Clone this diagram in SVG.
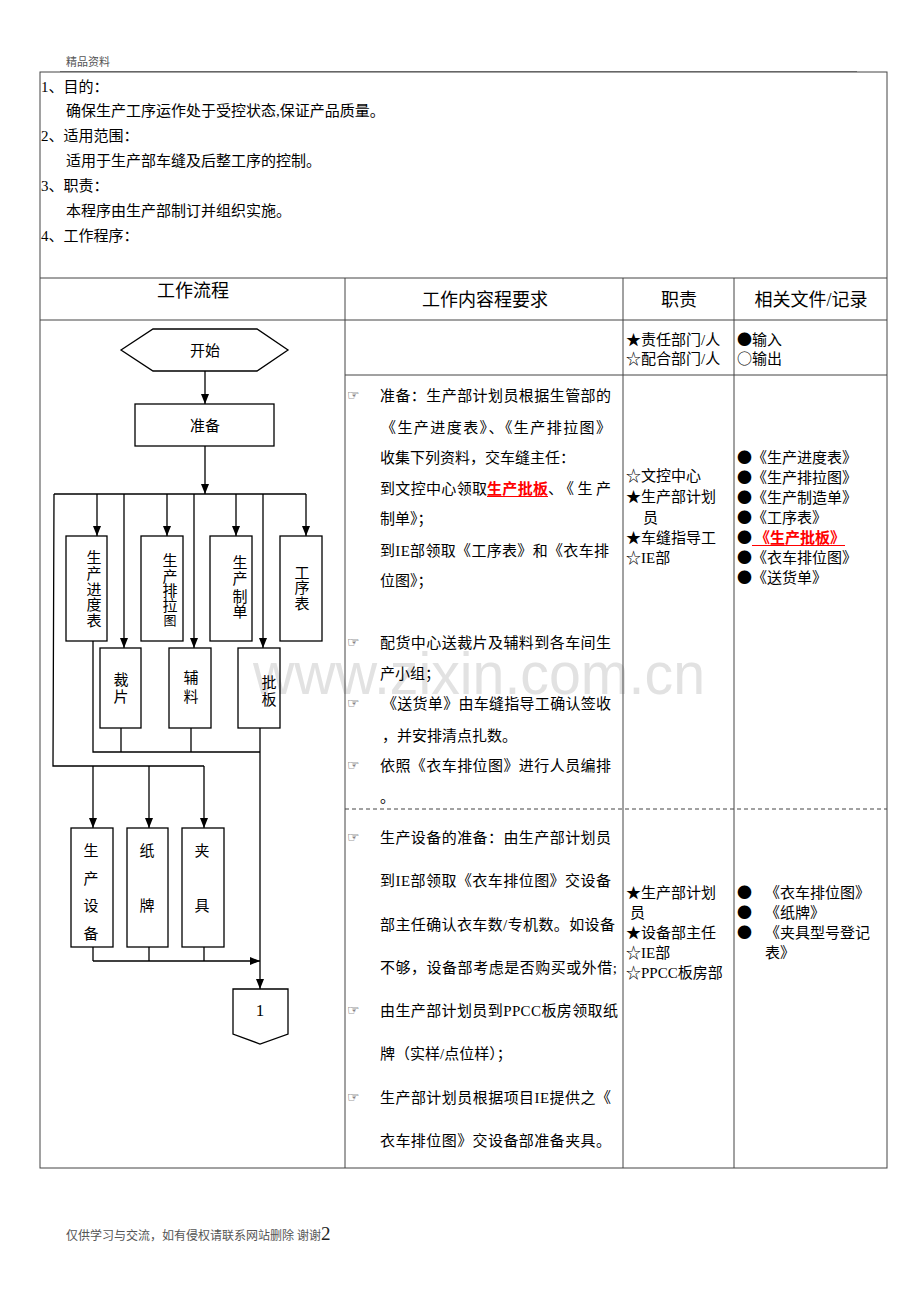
<svg xmlns="http://www.w3.org/2000/svg" width="920" height="1302" viewBox="0 0 920 1302">
<defs>
<marker id="arr" markerUnits="userSpaceOnUse" markerWidth="10" markerHeight="8" refX="10" refY="4" orient="auto">
<path d="M0,0 L10,4 L0,8 z" fill="#000"/>
</marker>
<style>
text{font-family:"Liberation Serif","Noto Sans CJK SC",serif;fill:#000;}
.t{font-size:15px;}
.h{font-size:18px;text-anchor:middle;}
.c{font-size:15px;text-anchor:middle;}
.sym{font-family:"Noto Sans CJK SC",sans-serif;}
.bul{font-family:"DejaVu Sans","Noto Sans CJK SC",sans-serif;font-size:14px;fill:#222;}
.red{fill:#ff0000;font-weight:bold;}
.grid{stroke:#444;stroke-width:1;fill:none;}
.fl{stroke:#000;stroke-width:1.3;fill:none;}
.box{stroke:#000;stroke-width:1.3;fill:none;}
.gray{fill:#555;}
</style>
</defs>
<rect width="920" height="1302" fill="#fff"/>
<text x="253" y="694" font-size="60" textLength="452" lengthAdjust="spacingAndGlyphs" style="font-family:'Liberation Sans',sans-serif;fill:#e2e2e2">www.zixin.com.cn</text>

<g id="page-header">
<text x="66" y="66" class="gray" style="font-size:11px">精品资料</text>
<line x1="60" y1="71.5" x2="857" y2="71.5" stroke="#888" stroke-width="1"/>
</g>

<g id="table">
<rect x="40" y="72" width="847" height="1096" class="grid"/>
<line x1="40" y1="278" x2="887" y2="278" class="grid"/>
<line x1="40" y1="320" x2="887" y2="320" class="grid"/>
<line x1="345" y1="375" x2="887" y2="375" class="grid"/>
<line x1="345" y1="809" x2="887" y2="809" class="grid" stroke-dasharray="4,3"/>
<line x1="345" y1="278" x2="345" y2="1168" class="grid"/>
<line x1="623" y1="278" x2="623" y2="1168" class="grid"/>
<line x1="734" y1="278" x2="734" y2="1168" class="grid"/>
</g>

<g id="intro">
<text class="t" x="41" y="91.5">1、目的：</text>
<text class="t" x="66" y="115.5">确保生产工序运作处于受控状态,保证产品质量。</text>
<text class="t" x="41" y="140.5">2、适用范围：</text>
<text class="t" x="66" y="165.5">适用于生产部车缝及后整工序的控制。</text>
<text class="t" x="41" y="190.5">3、职责：</text>
<text class="t" x="66" y="215.5">本程序由生产部制订并组织实施。</text>
<text class="t" x="41" y="240.5">4、工作程序：</text>
</g>

<g id="headers">
<text class="h" x="193" y="297">工作流程</text>
<text class="h" x="485" y="306">工作内容程要求</text>
<text class="h" x="679" y="306">职责</text>
<text class="h" x="811" y="306">相关文件/记录</text>
</g>

<g id="legend">
<text class="t" x="626" y="344.5">★责任部门/人</text>
<text class="t" x="626" y="363.5">☆配合部门/人</text>
<text class="t" x="737" y="344.5"><tspan class="sym">●</tspan>输入</text>
<text class="t" x="737" y="363.5"><tspan class="sym">○</tspan>输出</text>
</g>

<g id="connectors">
<line x1="205" y1="371" x2="205" y2="404" class="fl" marker-end="url(#arr)"/>
<line x1="205" y1="446" x2="205" y2="494" class="fl" marker-end="url(#arr)"/>
<line x1="54" y1="494" x2="306" y2="494" class="fl"/>
<line x1="97" y1="494" x2="97" y2="536" class="fl" marker-end="url(#arr)"/>
<line x1="124" y1="494" x2="124" y2="648" class="fl" marker-end="url(#arr)"/>
<line x1="167" y1="494" x2="167" y2="536" class="fl" marker-end="url(#arr)"/>
<line x1="194" y1="494" x2="194" y2="648" class="fl" marker-end="url(#arr)"/>
<line x1="236" y1="494" x2="236" y2="536" class="fl" marker-end="url(#arr)"/>
<line x1="263" y1="494" x2="263" y2="648" class="fl" marker-end="url(#arr)"/>
<line x1="306" y1="494" x2="306" y2="536" class="fl" marker-end="url(#arr)"/>
<polyline points="93,641 93,752 260,752" class="fl"/>
<line x1="121" y1="728" x2="121" y2="752" class="fl"/>
<line x1="191" y1="728" x2="191" y2="752" class="fl"/>
<line x1="260" y1="728" x2="260" y2="989" class="fl" marker-end="url(#arr)"/>
<polyline points="54,494 53,766 204,766" class="fl"/>
<line x1="93" y1="766" x2="93" y2="828" class="fl" marker-end="url(#arr)"/>
<line x1="149" y1="766" x2="149" y2="828" class="fl" marker-end="url(#arr)"/>
<line x1="204" y1="766" x2="204" y2="828" class="fl" marker-end="url(#arr)"/>
<line x1="93" y1="947" x2="93" y2="961" class="fl"/>
<line x1="149" y1="947" x2="149" y2="961" class="fl"/>
<line x1="204" y1="947" x2="204" y2="961" class="fl"/>
<line x1="93" y1="961" x2="260" y2="961" class="fl" marker-end="url(#arr)"/>
</g>

<g id="start">
<polygon points="121,350 153,329 257,329 288,350 257,371 153,371" class="box"/>
<text class="c" x="205" y="355.5">开始</text>
</g>
<g id="prepare">
<rect x="135" y="404" width="139" height="42" class="box"/>
<text class="c" x="205" y="430.5">准备</text>
</g>
<g id="n-progress">
<rect x="66" y="536" width="41" height="105" class="box"/>
<text class="c" x="94" y="563">生</text><text class="c" x="94" y="579">产</text><text class="c" x="94" y="595">进</text><text class="c" x="94" y="610">度</text><text class="c" x="94" y="626">表</text>
</g>
<g id="n-layout">
<rect x="141" y="536" width="42" height="105" class="box"/>
<text class="c" x="170" y="566">生</text><text class="c" x="170" y="582">产</text><text class="c" x="170" y="596">排</text><text class="c" x="170" y="611">拉</text><text class="c" x="170" y="625" style="font-size:13px">图</text>
</g>
<g id="n-order">
<rect x="210" y="536" width="42" height="105" class="box"/>
<text class="c" x="240" y="568">生</text><text class="c" x="240" y="584">产</text><text class="c" x="240" y="602">制</text><text class="c" x="240" y="617">单</text>
</g>
<g id="n-process">
<rect x="280" y="536" width="42" height="105" class="box"/>
<text class="c" x="302" y="578">工</text><text class="c" x="302" y="593">序</text><text class="c" x="302" y="609">表</text>
</g>
<g id="n-cut">
<rect x="100" y="648" width="41" height="80" class="box"/>
<text class="c" x="121" y="685">裁</text><text class="c" x="121" y="702">片</text>
</g>
<g id="n-acc">
<rect x="169" y="648" width="42" height="80" class="box"/>
<text class="c" x="191" y="683">辅</text><text class="c" x="191" y="702">料</text>
</g>
<g id="n-sample">
<rect x="238" y="648" width="42" height="80" class="box"/>
<text class="c" x="269" y="688">批</text><text class="c" x="269" y="705">板</text>
</g>
<g id="n-equip">
<rect x="71" y="828" width="42" height="119" class="box"/>
<text class="c" x="91" y="855.5">生</text><text class="c" x="91" y="883.5">产</text><text class="c" x="91" y="910.5">设</text><text class="c" x="91" y="938.5">备</text>
</g>
<g id="n-card">
<rect x="127" y="828" width="41" height="119" class="box"/>
<text class="c" x="147" y="855.5">纸</text><text class="c" x="147" y="910.5">牌</text>
</g>
<g id="n-fixture">
<rect x="182" y="828" width="42" height="119" class="box"/>
<text class="c" x="202" y="855.5">夹</text><text class="c" x="202" y="910.5">具</text>
</g>
<g id="offpage">
<polygon points="233,989 288,989 288,1034 260,1044 233,1034" class="box"/>
<text x="260" y="1016" style="font-size:17px;text-anchor:middle">1</text>
</g>

<g id="content">
<text class="bul" x="347" y="400">☞</text>
<text class="t" x="380" y="400.5" textLength="231" lengthAdjust="spacing">准备：生产部计划员根据生管部的</text>
<text class="t" x="381" y="432.5" textLength="230" lengthAdjust="spacing">《生产进度表》、《生产排拉图》</text>
<text class="t" x="380" y="462.5" textLength="195" lengthAdjust="spacing">收集下列资料，交车缝主任：</text>
<text class="t" x="380" y="493.5" textLength="107" lengthAdjust="spacing">到文控中心领取</text>
<text class="t red" x="487" y="493.5" textLength="61" lengthAdjust="spacing">生产批板</text>
<line x1="487" y1="496.5" x2="548" y2="496.5" stroke="#ff0000" stroke-width="1.2"/>
<text class="t" x="548" y="493.5" textLength="63" lengthAdjust="spacing">、《生产</text>
<text class="t" x="380" y="523.5">制单》；</text>
<text class="t" x="380" y="555.5" textLength="229" lengthAdjust="spacing">到IE部领取《工序表》和《衣车排</text>
<text class="t" x="380" y="585.5">位图》；</text>
<text class="bul" x="347" y="647">☞</text>
<text class="t" x="380" y="647.5" textLength="231" lengthAdjust="spacing">配货中心送裁片及辅料到各车间生</text>
<text class="t" x="380" y="678.5">产小组；</text>
<text class="bul" x="347" y="708">☞</text>
<text class="t" x="382" y="708.5" textLength="229" lengthAdjust="spacing">《送货单》由车缝指导工确认签收</text>
<text class="t" x="382" y="740.5">，并安排清点扎数。</text>
<text class="bul" x="347" y="770">☞</text>
<text class="t" x="380" y="770.5" textLength="231" lengthAdjust="spacing">依照《衣车排位图》进行人员编排</text>
<text class="t" x="380" y="801.5">。</text>

<text class="bul" x="347" y="842">☞</text>
<text class="t" x="380" y="842.5" textLength="231" lengthAdjust="spacing">生产设备的准备：由生产部计划员</text>
<text class="t" x="380" y="885.5" textLength="231" lengthAdjust="spacing">到IE部领取《衣车排位图》交设备</text>
<text class="t" x="380" y="929.5" textLength="235" lengthAdjust="spacing">部主任确认衣车数/专机数。如设备</text>
<text class="t" x="380" y="972.5" textLength="237" lengthAdjust="spacing">不够，设备部考虑是否购买或外借;</text>
<text class="bul" x="347" y="1015">☞</text>
<text class="t" x="380" y="1015.5" textLength="238" lengthAdjust="spacing">由生产部计划员到PPCC板房领取纸</text>
<text class="t" x="380" y="1058.5">牌（实样/点位样）；</text>
<text class="bul" x="347" y="1102">☞</text>
<text class="t" x="380" y="1102.5" textLength="231" lengthAdjust="spacing">生产部计划员根据项目IE提供之《</text>
<text class="t" x="380" y="1145.5" textLength="231" lengthAdjust="spacing">衣车排位图》交设备部准备夹具。</text>
</g>

<g id="duty">
<text class="t" x="626" y="480.5">☆文控中心</text>
<text class="t" x="626" y="501.5">★生产部计划</text>
<text class="t" x="643" y="522.5">员</text>
<text class="t" x="626" y="542.5">★车缝指导工</text>
<text class="t" x="626" y="562.5">☆IE部</text>
<text class="t" x="626" y="897.5">★生产部计划</text>
<text class="t" x="630" y="917.5">员</text>
<text class="t" x="626" y="937.5">★设备部主任</text>
<text class="t" x="626" y="957.5">☆IE部</text>
<text class="t" x="626" y="977.5">☆PPCC板房部</text>
</g>

<g id="records">
<text class="t" x="737" y="462.5"><tspan class="sym">●</tspan>《生产进度表》</text>
<text class="t" x="737" y="482.5"><tspan class="sym">●</tspan>《生产排拉图》</text>
<text class="t" x="737" y="502.5"><tspan class="sym">●</tspan>《生产制造单》</text>
<text class="t" x="737" y="522.5"><tspan class="sym">●</tspan>《工序表》</text>
<text class="t" x="737" y="542.5"><tspan class="sym">●</tspan></text>
<text class="t red" x="755" y="542.5">《生产批板》</text>
<line x1="752" y1="545.5" x2="845" y2="545.5" stroke="#ff0000" stroke-width="1.2"/>
<text class="t" x="737" y="562.5"><tspan class="sym">●</tspan>《衣车排位图》</text>
<text class="t" x="737" y="582.5"><tspan class="sym">●</tspan>《送货单》</text>
<text class="t" x="737" y="897.5"><tspan class="sym">●</tspan></text>
<text class="t" x="765" y="897.5">《衣车排位图》</text>
<text class="t" x="737" y="917.5"><tspan class="sym">●</tspan></text>
<text class="t" x="765" y="917.5">《纸牌》</text>
<text class="t" x="737" y="937.5"><tspan class="sym">●</tspan></text>
<text class="t" x="765" y="937.5">《夹具型号登记</text>
<text class="t" x="765" y="957.5">表》</text>
</g>

<g id="footer">
<text x="66" y="1240" class="gray" style="font-size:12px">仅供学习与交流，如有侵权请联系网站删除 谢谢<tspan style="font-size:19px;fill:#222">2</tspan></text>
</g>
</svg>
